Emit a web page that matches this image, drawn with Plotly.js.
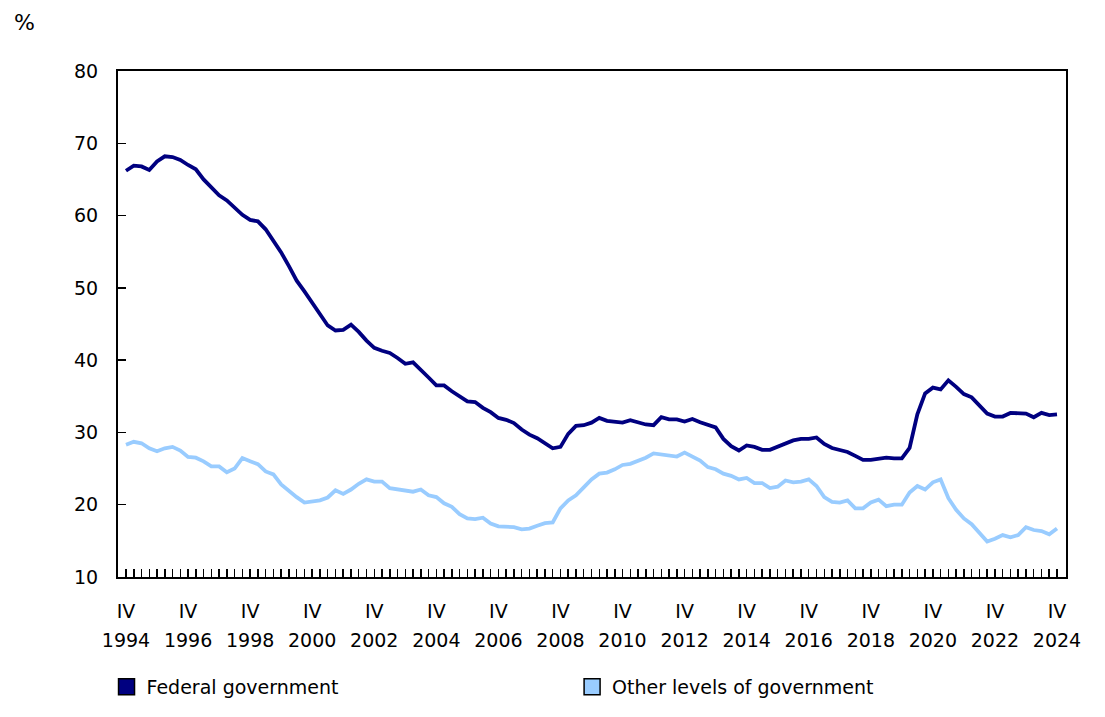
<!DOCTYPE html>
<html>
<head>
<meta charset="utf-8">
<script src="https://cdn.plot.ly/plotly-3.0.1.min.js"></script>
<style>
  html, body { margin: 0; padding: 0; background: #ffffff; }
  #chart { width: 1105px; height: 717px; }
</style>
</head>
<body>
<div id="chart"></div>
<script>
// Quarter categories: 1994 Q4 to 2024 Q4
const romanQuarters = ["I", "II", "III", "IV"];
const quarters = [];
for (let i = 0; i < 121; i++) {
  const q = (3 + i) % 4;
  const yr = 1994 + Math.floor((3 + i) / 4);
  quarters.push(yr + " " + romanQuarters[q]);
}

// Labelled ticks (every second year, fourth quarter)
const labelIndex = quarters.map((q, i) => i).filter(i => i % 8 === 0);
const labelQuarters = labelIndex.map(i => quarters[i]);
const labelYearText = labelQuarters.map(q => q.split(" ")[0]);

const federal = [
  66.2, 66.9, 66.8, 66.3, 67.5, 68.2, 68.1, 67.7, 67.0, 66.4,
  65.0, 63.9, 62.8, 62.1, 61.1, 60.1, 59.4, 59.2, 58.1, 56.5,
  54.9, 53.0, 51.0, 49.5, 47.9, 46.5, 44.8, 44.1, 44.2, 44.9,
  43.9, 42.7, 41.7, 41.3, 41.0, 40.3, 39.5, 39.7, 38.7, 37.6,
  36.5, 36.5, 35.7, 35.0, 34.3, 34.2, 33.4, 32.8, 32.0, 31.75,
  31.3, 30.4, 29.7, 29.2, 28.5, 27.8, 28.0, 29.8, 30.9, 31.0,
  31.35, 32.0, 31.6, 31.45, 31.35, 31.7, 31.35, 31.1, 31.0, 32.1,
  31.8, 31.8, 31.5, 31.85, 31.4, 31.0, 30.7, 29.1, 28.1, 27.5,
  28.2, 28.0, 27.6, 27.6, 28.0, 28.5, 28.9, 29.1, 29.1, 29.3,
  28.4, 27.85, 27.6, 27.3, 26.75, 26.2, 26.2, 26.4, 26.5, 26.4,
  26.4, 27.85, 32.5, 35.4, 36.2, 35.95, 37.2, 36.3, 35.3, 34.85,
  33.8, 32.6, 32.2, 32.2, 32.7, 32.6, 32.6, 32.1, 32.7, 32.4,
  32.5
];

const otherLevels = [
  28.3, 28.7, 28.5, 27.8, 27.4, 27.8, 28.0, 27.5, 26.6, 26.5,
  26.0, 25.3, 25.3, 24.5, 25.0, 26.45, 26.0, 25.6, 24.6, 24.2,
  22.8, 21.9, 21.05, 20.3, 20.4, 20.6, 21.0, 22.0, 21.5, 22.1,
  22.9, 23.5, 23.2, 23.2, 22.3, 22.1, 21.9, 21.8, 22.1, 21.3,
  21.05, 20.2, 19.7, 18.7, 18.1, 18.0, 18.2, 17.4, 17.0, 16.95,
  16.9, 16.6, 16.7, 17.1, 17.45, 17.55, 19.5, 20.6, 21.3, 22.4,
  23.5, 24.3, 24.45, 24.9, 25.5, 25.65, 26.06, 26.5, 27.1, 26.94,
  26.75, 26.66, 27.2, 26.6, 26.1, 25.2, 24.9, 24.3, 24.0, 23.5,
  23.7, 23.0, 23.0, 22.3, 22.5, 23.35, 23.1, 23.2, 23.5, 22.6,
  21.05, 20.4, 20.3, 20.6, 19.5, 19.5, 20.3, 20.7, 19.8, 20.0,
  20.0, 21.7, 22.6, 22.1, 23.1, 23.5, 20.9, 19.3, 18.1, 17.3,
  16.1, 14.9, 15.3, 15.8, 15.5, 15.8, 16.9, 16.5, 16.35, 15.9,
  16.7
];

const seriesNames = ["Federal government", "Other levels of government"];
const yTicks = [10, 20, 30, 40, 50, 60, 70, 80];

const FONT = "DejaVu Sans, Verdana, sans-serif";
const navy = "#000080";
const lightBlue = "#99ccff";

const traces = [
  {
    x: quarters, y: otherLevels, type: "scatter", mode: "lines",
    line: { color: lightBlue, width: 3.8 }, showlegend: false, hoverinfo: "x+y"
  },
  {
    x: quarters, y: federal, type: "scatter", mode: "lines",
    line: { color: navy, width: 3.8 }, showlegend: false, hoverinfo: "x+y"
  },
  {
    // empty helper trace so the year-label axis (x2) gets drawn
    x: [null], y: [null], type: "scatter", mode: "lines",
    xaxis: "x2", yaxis: "y", showlegend: false, hoverinfo: "skip"
  },
  {
    x: [null], y: [null], type: "scatter", mode: "markers", name: seriesNames[0],
    marker: { symbol: "square", size: 16, color: navy, line: { color: "#000000", width: 1.5 } },
    legend: "legend", showlegend: true
  },
  {
    x: [null], y: [null], type: "scatter", mode: "markers", name: seriesNames[1],
    marker: { symbol: "square", size: 16, color: lightBlue, line: { color: "#000000", width: 1.5 } },
    legend: "legend2", showlegend: true
  }
];

const xRange = [-1.03, 121.16];

const layout = {
  width: 1105, height: 717,
  margin: { l: 118, r: 39, t: 71, b: 139 },
  paper_bgcolor: "#ffffff", plot_bgcolor: "#ffffff",
  font: { family: FONT, size: 19, color: "#000000" },
  xaxis: {
    type: "category",
    categoryorder: "array", categoryarray: quarters,
    range: xRange,
    tickmode: "array", tickvals: quarters,
    ticktext: quarters.map((q, i) => i % 8 === 0 ? q.split(" ")[1] : ""),
    ticks: "inside", ticklen: 8, tickwidth: 1.5, tickcolor: "#000000",
    showline: true, linecolor: "#000000", linewidth: 2, mirror: true,
    showgrid: false, zeroline: false,
    tickfont: { family: FONT, size: 19, color: "#000000" },
    ticklabelstandoff: 16
  },
  xaxis2: {
    type: "linear", overlaying: "x", anchor: "y", side: "bottom",
    range: xRange,
    tickmode: "array", tickvals: labelIndex, ticktext: labelYearText,
    ticks: "", showline: false, showgrid: false, zeroline: false,
    tickfont: { family: FONT, size: 19, color: "#000000" },
    ticklabelstandoff: 50
  },
  yaxis: {
    range: [10, 80], tickmode: "array", tickvals: yTicks,
    ticks: "inside", ticklen: 8, tickwidth: 1.5, tickcolor: "#000000",
    showline: true, linecolor: "#000000", linewidth: 2, mirror: true,
    showgrid: false, zeroline: false,
    tickfont: { family: FONT, size: 19, color: "#000000" },
    ticklabelstandoff: 14
  },
  legend: {
    x: -0.0121, xanchor: "left", y: -0.215, yanchor: "middle",
    orientation: "h", bgcolor: "rgba(0,0,0,0)",
    font: { family: FONT, size: 19, color: "#000000" }
  },
  legend2: {
    x: 0.479, xanchor: "left", y: -0.215, yanchor: "middle",
    orientation: "h", bgcolor: "rgba(0,0,0,0)",
    font: { family: FONT, size: 19, color: "#000000" }
  },
  annotations: [
    {
      text: "%", xref: "paper", yref: "paper",
      x: -0.1118, xanchor: "left", y: 1.0966, yanchor: "middle",
      showarrow: false, font: { family: FONT, size: 22, color: "#000000" }
    }
  ]
};

Plotly.newPlot("chart", traces, layout, { displayModeBar: false, staticPlot: true });
</script>
</body>
</html>
